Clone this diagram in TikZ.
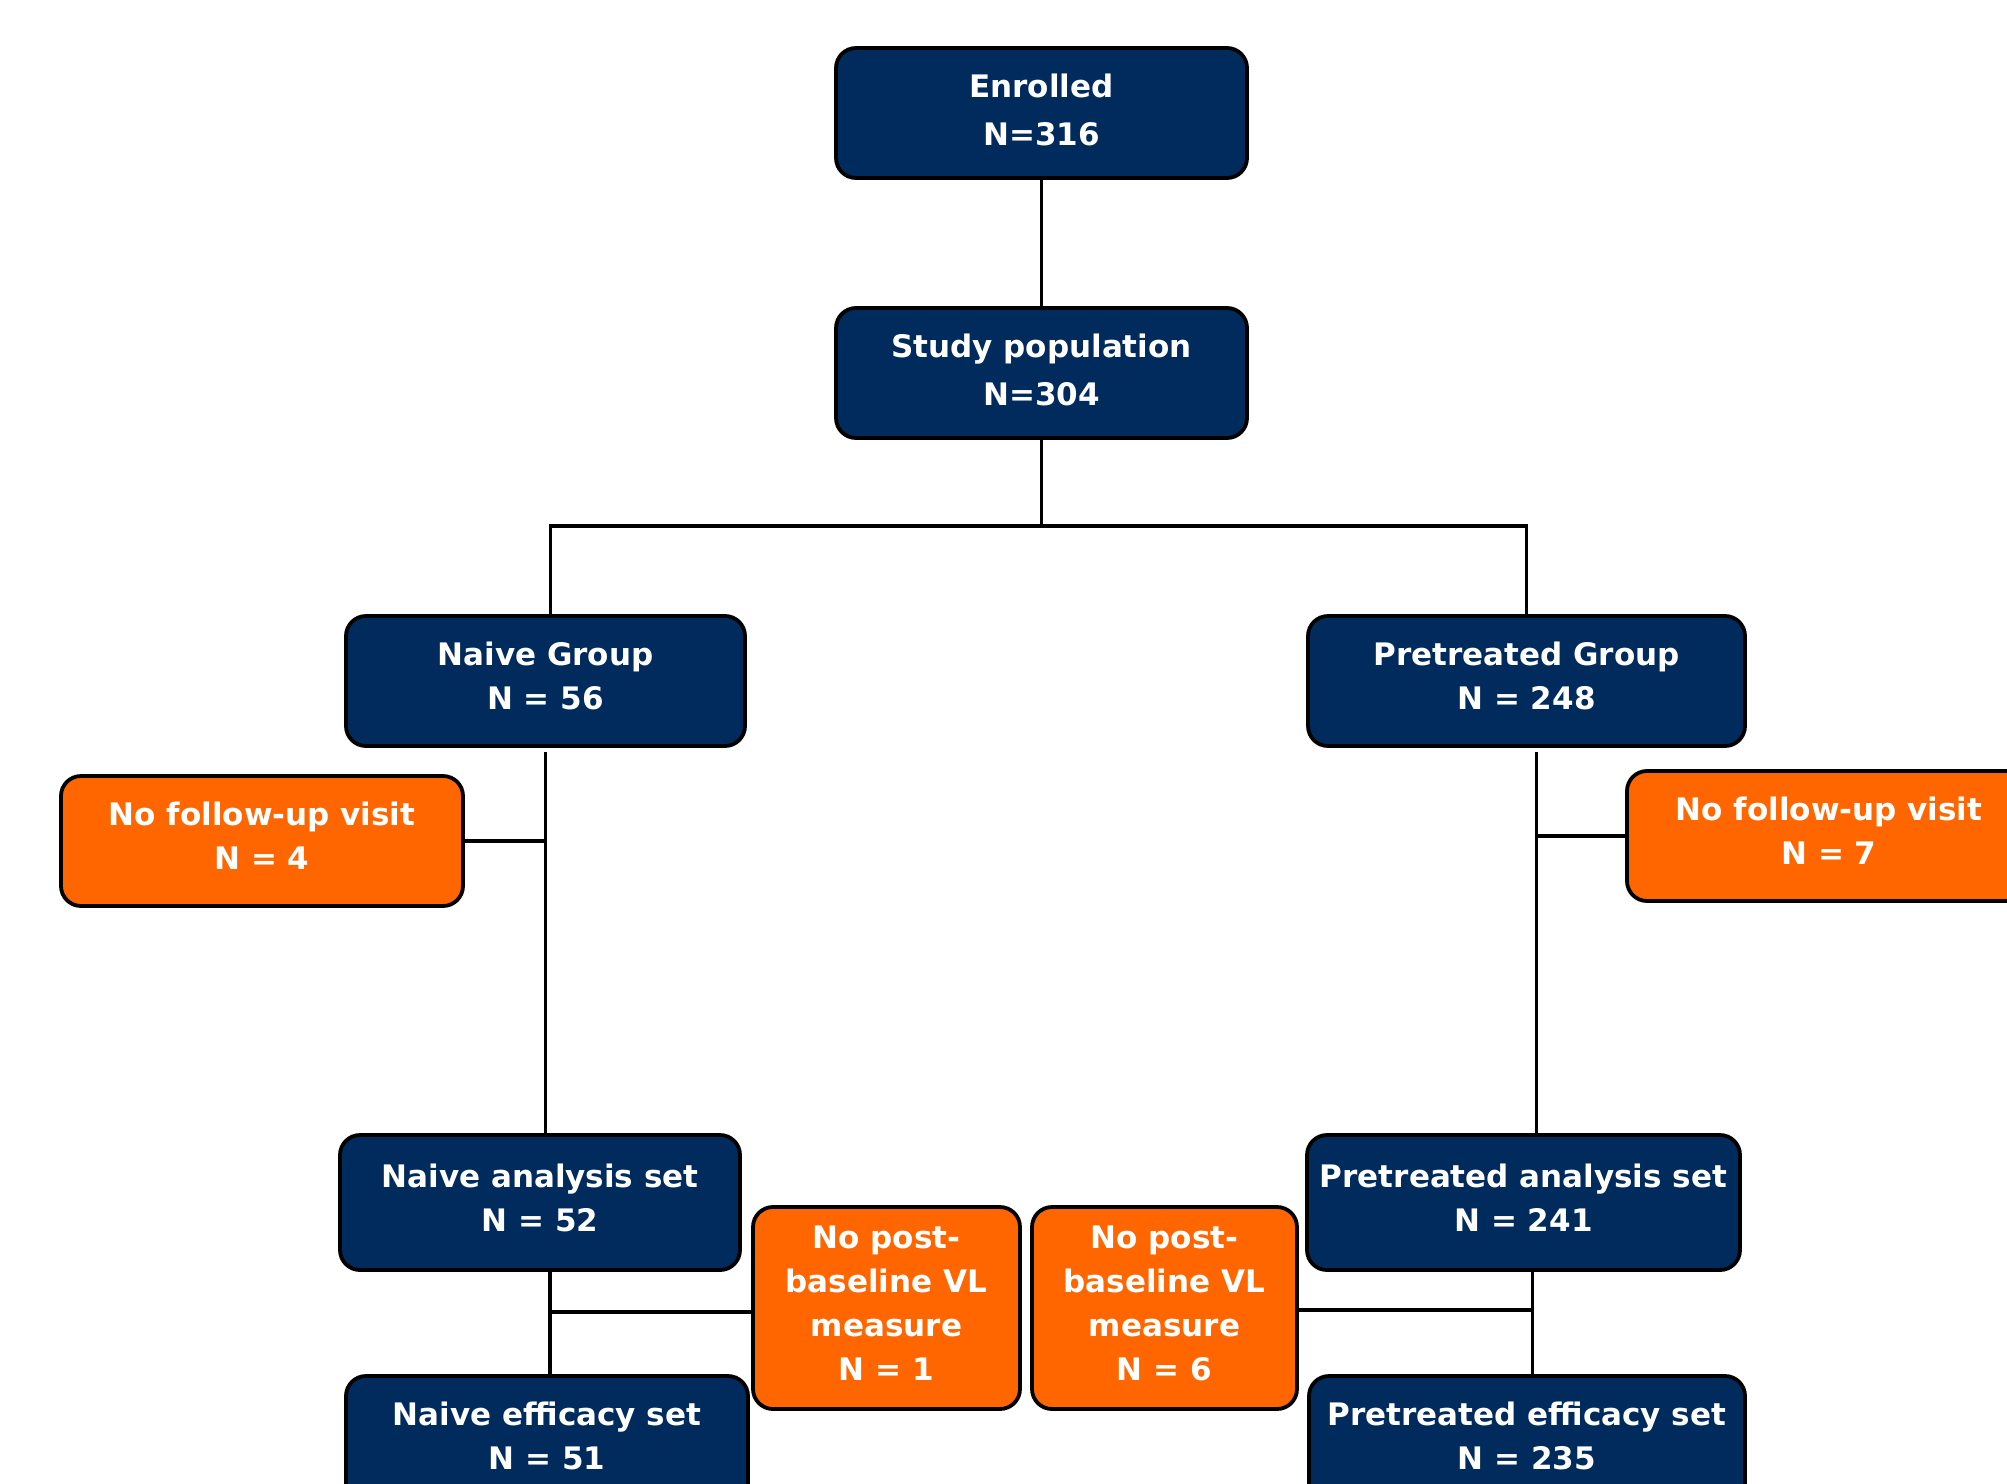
\documentclass[tikz,border=0pt]{standalone}
\usepackage{fontspec}
\setmainfont{DejaVu Sans}
\definecolor{navy}{RGB}{0,43,92}
\definecolor{orng}{RGB}{255,102,0}
\begin{document}
\begin{tikzpicture}[x=0.5pt,y=-0.5pt,
  base/.style={draw=black, line width=1.9pt, rounded corners=10pt, align=center,
    text=white, font=\bfseries\fontsize{15.5}{22}\selectfont, inner sep=0pt, text depth=5pt},
  navybox/.style={base, fill=navy},
  orangebox/.style={base, fill=orng},
  conn/.style={line width=1.8pt, draw=black}]
\useasboundingbox (0,0) rectangle (2007,1483);
\clip (0,0) rectangle (2007,1483);
\fill[white] (0,0) rectangle (2007,1483);

\node[navybox, font=\bfseries\fontsize{15.5}{24}\selectfont, text depth=3pt, minimum width=205.5pt, minimum height=65pt] (enr) at (1041.5,113) {Enrolled\\N=316};
\node[navybox, font=\bfseries\fontsize{15.5}{24}\selectfont, text depth=3pt, minimum width=205.5pt, minimum height=65pt] (stu) at (1041.5,373) {Study population\\N=304};
\node[navybox, minimum width=199.5pt, minimum height=65pt] (naive) at (545.5,681) {Naive Group\\N = 56};
\node[navybox, minimum width=218.5pt, minimum height=65pt] (pre) at (1526.5,681) {Pretreated Group\\N = 248};
\node[orangebox, minimum width=201pt, minimum height=65pt] (nf4) at (262,841) {No follow-up visit\\N = 4};
\node[orangebox, minimum width=202pt, minimum height=65pt] (nf7) at (1829,836) {No follow-up visit\\N = 7};
\node[navybox, minimum width=200pt, minimum height=67.5pt] (nas) at (540,1202.5) {Naive analysis set\\N = 52};
\node[navybox, minimum width=201pt, minimum height=65pt] (nes) at (547,1441) {Naive efficacy set\\N = 51};
\node[navybox, minimum width=216.5pt, minimum height=67.5pt] (pas) at (1523.5,1202.5) {Pretreated analysis set\\N = 241};
\node[navybox, minimum width=218pt, minimum height=65pt] (pes) at (1527,1441) {Pretreated efficacy set\\N = 235};
\node[orangebox, minimum width=133.5pt, minimum height=101pt] (np1) at (886.5,1308) {No post-\\baseline VL\\measure\\N = 1};
\node[orangebox, minimum width=132.5pt, minimum height=101pt] (np6) at (1164.5,1308) {No post-\\baseline VL\\measure\\N = 6};

\coordinate (bus) at (1041.5,526);
\draw[conn] (enr.south) -- (stu.north);
\draw[conn] (stu.south) -- (bus);
\draw[conn] ([xshift=2.5pt]naive.north) |- (bus) -| (pre.north);

\coordinate (nl) at ([yshift=-2pt]naive.south);
\draw[conn] (nl) -- (nl |- nas.north);
\draw[conn] (nf4.east) -- (nf4.east -| nl);

\coordinate (pl) at ([xshift=5pt,yshift=-2pt]pre.south);
\draw[conn] (pl) -- (pl |- pas.north);
\draw[conn] (nf7.west) -- (nf7.west -| pl);

\coordinate (al) at ([xshift=5pt]nas.south);
\draw[conn] (al) -- (al |- nes.north);
\draw[conn] ([yshift=-2pt]np1.west) -- ([yshift=-2pt]np1.west -| al);

\coordinate (bl) at ([xshift=4.5pt]pas.south);
\draw[conn] (bl) -- (bl |- pes.north);
\draw[conn] ([yshift=-1pt]np6.east) -- ([yshift=-1pt]np6.east -| bl);
\end{tikzpicture}
\end{document}
